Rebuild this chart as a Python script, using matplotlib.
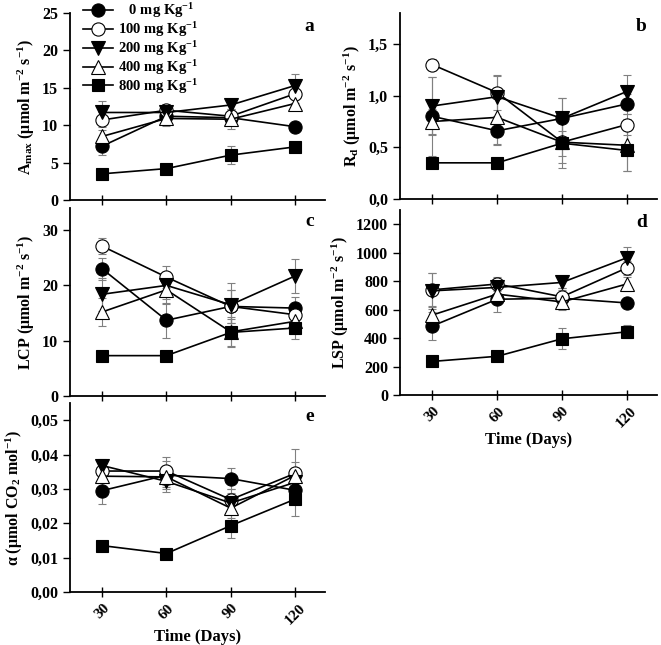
import numpy as np
import matplotlib
matplotlib.use("Agg")
import matplotlib.pyplot as plt

plt.rcParams['font.family'] = 'Liberation Serif'
plt.rcParams['font.weight'] = 'bold'
plt.rcParams['mathtext.fontset'] = 'custom'
plt.rcParams['mathtext.rm'] = 'Liberation Serif:bold'
plt.rcParams['mathtext.it'] = 'Liberation Serif:bold'
plt.rcParams['mathtext.bf'] = 'Liberation Serif:bold'

# datos
dias = [30, 60, 90, 120]
dosis = ["   0 mg Kg$^{-1}$", "100 mg Kg$^{-1}$", "200 mg Kg$^{-1}$",
         "400 mg Kg$^{-1}$", "800 mg Kg$^{-1}$"]

amax = [[7.2, 11.2, 11.0, 9.8],
        [10.7, 12.0, 11.2, 14.2],
        [11.7, 11.7, 12.7, 15.3],
        [8.5, 10.9, 10.8, 12.9],
        [3.5, 4.2, 6.0, 7.1]]
amax_err = [[1.2, 0.8, 0.9, 0.4],
            [1.0, 0.9, 0.9, 1.2],
            [1.5, 0.8, 0.8, 1.5],
            [0.9, 1.0, 1.3, 0.8],
            [0.3, 0.4, 1.2, 0.4]]

rd = [[0.80, 0.66, 0.78, 0.92],
      [1.30, 1.03, 0.55, 0.72],
      [0.90, 0.99, 0.78, 1.04],
      [0.75, 0.79, 0.55, 0.52],
      [0.35, 0.35, 0.54, 0.47]]
rd_err = [[0.38, 0.14, 0.20, 0.10],
          [0.05, 0.17, 0.20, 0.10],
          [0.28, 0.20, 0.20, 0.16],
          [0.12, 0.26, 0.25, 0.25],
          [0.05, 0.05, 0.12, 0.20]]

lcp = [[23.0, 13.7, 16.2, 15.9],
       [27.1, 21.5, 16.2, 14.7],
       [18.4, 20.0, 16.5, 21.7],
       [15.2, 19.2, 11.6, 13.5],
       [7.3, 7.3, 11.5, 12.3]]
lcp_err = [[2.0, 3.2, 3.0, 2.0],
           [1.5, 2.0, 3.0, 1.5],
           [3.0, 2.5, 4.0, 3.0],
           [2.5, 2.5, 2.7, 1.5],
           [0.4, 0.4, 2.5, 2.0]]

lsp = [[485, 673, 680, 647],
       [739, 780, 690, 893],
       [732, 756, 791, 964],
       [562, 709, 654, 780],
       [236, 272, 395, 444]]
lsp_err = [[95, 90, 60, 30],
           [120, 50, 60, 50],
           [125, 60, 40, 75],
           [60, 60, 60, 50],
           [20, 20, 75, 45]]

alfa = [[0.0295, 0.0340, 0.0330, 0.0296],
        [0.0352, 0.0352, 0.0269, 0.0345],
        [0.0368, 0.0322, 0.0259, 0.0319],
        [0.0337, 0.0335, 0.0244, 0.0339],
        [0.0135, 0.0112, 0.0193, 0.0270]]
alfa_err = [[0.004, 0.004, 0.003, 0.003],
            [0.003, 0.004, 0.003, 0.007],
            [0.002, 0.003, 0.003, 0.004],
            [0.002, 0.003, 0.003, 0.004],
            [0.0007, 0.0007, 0.0037, 0.005]]

marcadores = ["o", "o", "v", "^", "s"]
rellenos = ["black", "white", "black", "white", "black"]
tamanos = [9.5, 9.5, 9.5, 9.5, 8]

W, H = 661, 645
fig = plt.figure(figsize=(W / 100, H / 100), dpi=100)


def ejes(x0, x1, y0, y1):
    # caja en pixeles (y desde arriba)
    return fig.add_axes([x0 / W, (H - y1) / H, (x1 - x0) / W, (y1 - y0) / H])


def panel(ax, datos, errores, ylim, yticks, yticklabels, ylabel, letra, etiquetas_x):
    for i in range(5):
        ax.errorbar(dias, datos[i], yerr=errores[i], fmt="none", ecolor="#808080",
                    elinewidth=0.8, capsize=3, capthick=0.8, zorder=1)
    for i in range(5):
        ax.plot(dias, datos[i], color="black", lw=1.2, marker=marcadores[i],
                markersize=tamanos[i], markerfacecolor=rellenos[i],
                markeredgecolor="black", markeredgewidth=0.8, label=dosis[i], zorder=3)
    ax.set_xlim(15, 134)
    ax.set_ylim(*ylim)
    ax.set_xticks(dias)
    ax.set_yticks(yticks)
    ax.set_yticklabels(yticklabels, fontsize=11.5, fontweight="bold")
    if etiquetas_x:
        ax.set_xticklabels([str(d) for d in dias], rotation=45, fontsize=11,
                           fontweight="bold")
        ax.set_xlabel("Time (Days)", fontsize=12, fontweight="bold", labelpad=1)
    else:
        ax.set_xticklabels([])
    ax.set_ylabel(ylabel, fontsize=11.5, fontweight="bold", labelpad=4)
    ax.spines["top"].set_visible(False)
    ax.spines["right"].set_visible(False)
    ax.spines["left"].set_linewidth(1.3)
    ax.spines["bottom"].set_linewidth(1.3)
    ax.tick_params(axis="x", direction="inout", length=7, width=1)
    ax.tick_params(axis="y", direction="out", length=5, width=1)
    ax.text(0.94, 0.93, letra, transform=ax.transAxes, fontsize=14,
            fontweight="bold", ha="center", va="center")


ax_a = ejes(70, 325, 13, 200)
ax_b = ejes(400, 657, 13, 199)
ax_c = ejes(70, 325, 208, 396)
ax_d = ejes(400, 657, 210, 395)
ax_e = ejes(70, 325, 403, 592)

panel(ax_a, amax, amax_err, (0, 25), [0, 5, 10, 15, 20, 25],
      ["0", "5", "10", "15", "20", "25"],
      r"A$_{\rm max}$ ($\mu$mol m$^{-2}$ s$^{-1}$)", "a", False)
panel(ax_b, rd, rd_err, (0, 1.8), [0, 0.5, 1.0, 1.5],
      ["0,0", "0,5", "1,0", "1,5"],
      r"R$_{\rm d}$ ($\mu$mol m$^{-2}$ s$^{-1}$)", "b", False)
panel(ax_c, lcp, lcp_err, (0, 34), [0, 10, 20, 30],
      ["0", "10", "20", "30"],
      r"LCP ($\mu$mol m$^{-2}$ s$^{-1}$)", "c", False)
panel(ax_d, lsp, lsp_err, (0, 1300), [0, 200, 400, 600, 800, 1000, 1200],
      ["0", "200", "400", "600", "800", "1000", "1200"],
      r"LSP ($\mu$mol m$^{-2}$ s$^{-1}$)", "d", True)
panel(ax_e, alfa, alfa_err, (0, 0.055), [0, 0.01, 0.02, 0.03, 0.04, 0.05],
      ["0,00", "0,01", "0,02", "0,03", "0,04", "0,05"],
      r"$\alpha$ ($\mu$mol CO$_2$ mol$^{-1}$)", "e", True)

ax_a.legend(loc="upper left", bbox_to_anchor=(0.03, 1.095), frameon=False,
            handlelength=2.0, labelspacing=0.0, handletextpad=0.4,
            borderaxespad=0, prop={"weight": "bold", "size": 10.5})

fig.savefig("out.png", dpi=100)
